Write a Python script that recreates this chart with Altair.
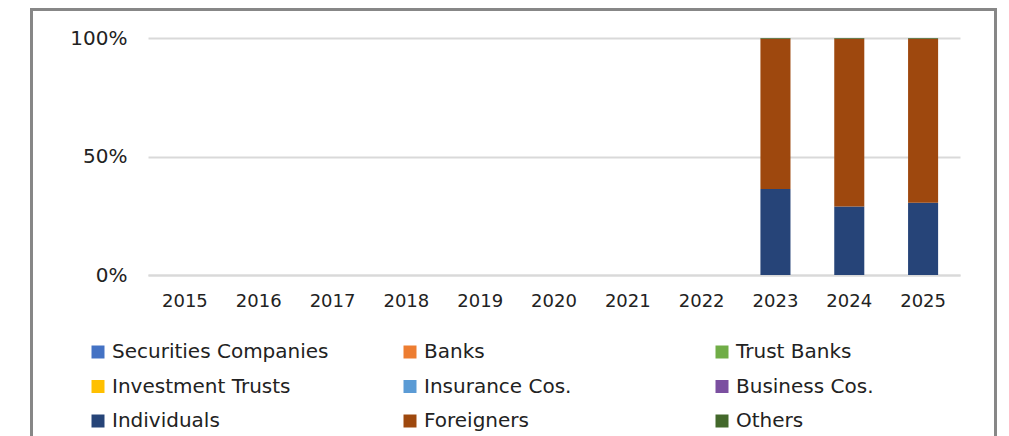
import altair as alt
import pandas as pd

years = [str(y) for y in range(2015, 2026)]
categories = ["Securities Companies", "Banks", "Trust Banks",
              "Investment Trusts", "Insurance Cos.", "Business Cos.",
              "Individuals", "Foreigners", "Others"]
colors = ["#4472C4", "#ED7D31", "#70AD47",
          "#FFC000", "#5B9BD5", "#7B4FA0",
          "#264478", "#9E480E", "#43682B"]

bar_years = ["2023", "2024", "2025"]
individuals = [36.3, 28.9, 30.5]
foreigners = [63.4, 70.8, 69.2]
others = [0.3, 0.3, 0.3]

rows = []
for i, y in enumerate(bar_years):
    for cat, vals in (("Individuals", individuals), ("Foreigners", foreigners), ("Others", others)):
        rows.append({"year": y, "category": cat, "value": vals[i], "idx": categories.index(cat)})
df = pd.DataFrame(rows)

FONT = "DejaVu Sans"

bars = alt.Chart(df).mark_bar().encode(
    x=alt.X("year:N", scale=alt.Scale(domain=years, paddingInner=0.593, paddingOuter=0.2965),
            axis=alt.Axis(title=None, labelAngle=0, labelFontSize=18, labelFont=FONT,
                          labelColor="#222222", ticks=False, domain=True, domainColor="#d9d9d9",
                          domainWidth=2, labelPadding=17, grid=False)),
    y=alt.Y("value:Q", stack="normalize",
            scale=alt.Scale(domain=[0, 1]),
            axis=alt.Axis(title=None, values=[0, 0.5, 1], format=".0%", labelFontSize=20,
                          labelFont=FONT, labelColor="#222222", ticks=False, domain=False,
                          grid=True, gridColor="#d9d9d9", gridWidth=2, labelPadding=21)),
    color=alt.Color("category:N", scale=alt.Scale(domain=categories, range=colors),
                    legend=alt.Legend(title=None, orient="none", legendX=-60, legendY=304,
                                      direction="horizontal",
                                      columns=3, symbolType="square", symbolSize=169,
                                      symbolStrokeWidth=0, labelFontSize=20, labelFont=FONT,
                                      labelColor="#222222", columnPadding=71, rowPadding=14.5,
                                      gridAlign="all", labelOffset=4, labelLimit=400)),
    order=alt.Order("idx:Q", sort="ascending"),
)

frame = alt.Chart(alt.Data(values=[{}])).mark_rect(
    fill=None, fillOpacity=0, stroke="#878787", strokeWidth=3
).encode(
    x=alt.value(-116.5), x2=alt.value(847.5),
    y=alt.value(-28.5), y2=alt.value(600),
)

chart = alt.layer(frame, bars).properties(
    width=812, height=237,
    padding={"left": 140, "top": 30, "right": 39, "bottom": 161},
    autosize=alt.AutoSizeParams(type="none"),
).configure(background="white").configure_view(stroke=None)

chart.save("out.html", embed_options={"renderer": "svg", "actions": False})
